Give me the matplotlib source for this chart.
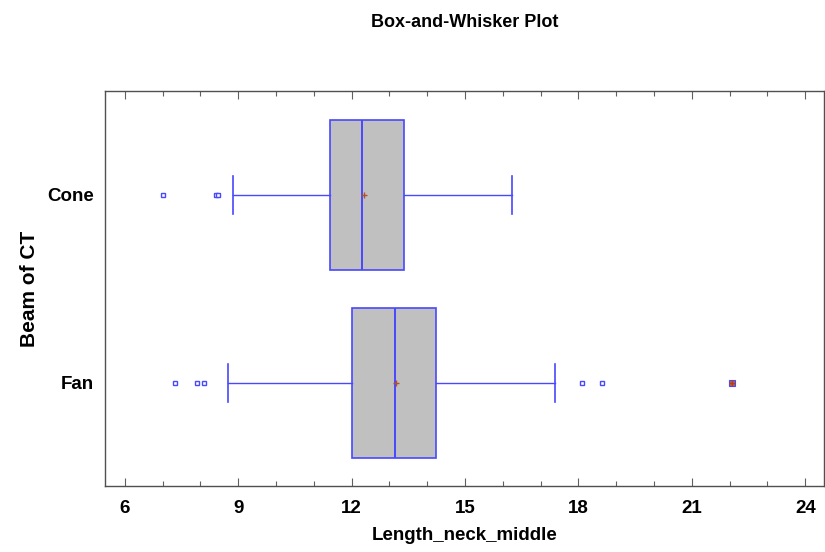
import matplotlib
matplotlib.use("Agg")
import matplotlib.pyplot as plt
from matplotlib.ticker import MultipleLocator

# Data
groups = ["Fan", "Cone"]
whisker_low = [8.72, 8.86]
q1 = [12.01, 11.43]
median = [13.14, 12.27]
q3 = [14.24, 13.38]
whisker_high = [17.37, 16.23]
means = [13.18, 12.32]
outliers = [[7.34, 7.91, 8.09, 18.10, 18.63], [7.01, 8.40, 8.47]]
far_outliers = [[22.05], []]

fam = ["Liberation Sans Narrow", "Liberation Sans", "DejaVu Sans"]
blue = "#4848ff"

fig = plt.figure(figsize=(8.25, 5.52), dpi=100)
ax = fig.add_axes([0.127, 0.1196, 0.872, 0.7156])

stats = []
for i, g in enumerate(groups):
    stats.append(dict(label=g, whislo=whisker_low[i], q1=q1[i], med=median[i],
                      q3=q3[i], whishi=whisker_high[i], mean=means[i], fliers=[]))

positions = list(range(1, len(groups) + 1))
ax.bxp(stats, positions=positions, vert=False, widths=0.8, patch_artist=True,
       showmeans=False, showfliers=False, capwidths=0.2,
       boxprops=dict(facecolor="#c0c0c0", edgecolor=blue, linewidth=1.2),
       medianprops=dict(color=blue, linewidth=1.4),
       whiskerprops=dict(color=blue, linewidth=1.0),
       capprops=dict(color=blue, linewidth=1.2))

for i, p in enumerate(positions):
    ax.plot(means[i], p, marker="+", color="#b05030", markersize=4, mew=1.0, zorder=5)
    ax.plot(outliers[i], [p] * len(outliers[i]), linestyle="none", marker="s",
            markersize=3, mfc="white", mec=blue, mew=1.0, zorder=5)
    if far_outliers[i]:
        ax.plot(far_outliers[i], [p] * len(far_outliers[i]), linestyle="none", marker="s",
                markersize=4, mfc="#c06040", mec=blue, mew=0.8, zorder=5)
        ax.plot(far_outliers[i], [p] * len(far_outliers[i]), linestyle="none", marker="+",
                markersize=4, color="#b04020", mew=1.0, zorder=6)

ax.set_xlim(5.47, 24.5)
ax.set_ylim(0.452, 2.553)
ax.xaxis.set_major_locator(MultipleLocator(3))
ax.xaxis.set_minor_locator(MultipleLocator(1))
ax.tick_params(axis="x", which="major", direction="in", length=6, width=0.8,
               color="#606060", top=True, bottom=True, pad=10)
ax.tick_params(axis="x", which="minor", direction="in", length=3.5, width=0.8,
               color="#606060", top=True, bottom=True)
ax.tick_params(axis="y", length=0, pad=8)
ax.set_yticks(positions)
ax.set_yticklabels(groups)
for lbl in ax.get_xticklabels() + ax.get_yticklabels():
    lbl.set_family(fam)
    lbl.set_fontweight("bold")
    lbl.set_fontsize(13.5)
for s in ax.spines.values():
    s.set_color("#505050")
    s.set_linewidth(1.0)

ax.set_xlabel("Length_neck_middle", family=fam, fontweight="bold", fontsize=13.5, labelpad=7)
ax.set_ylabel("Beam of CT", family=fam, fontweight="bold", fontsize=15, labelpad=6)
fig.text(0.5636, 0.96, "Box-and-Whisker Plot", ha="center", va="center",
         family=fam, fontweight="bold", fontsize=13)

fig.savefig("out.png", dpi=100)
